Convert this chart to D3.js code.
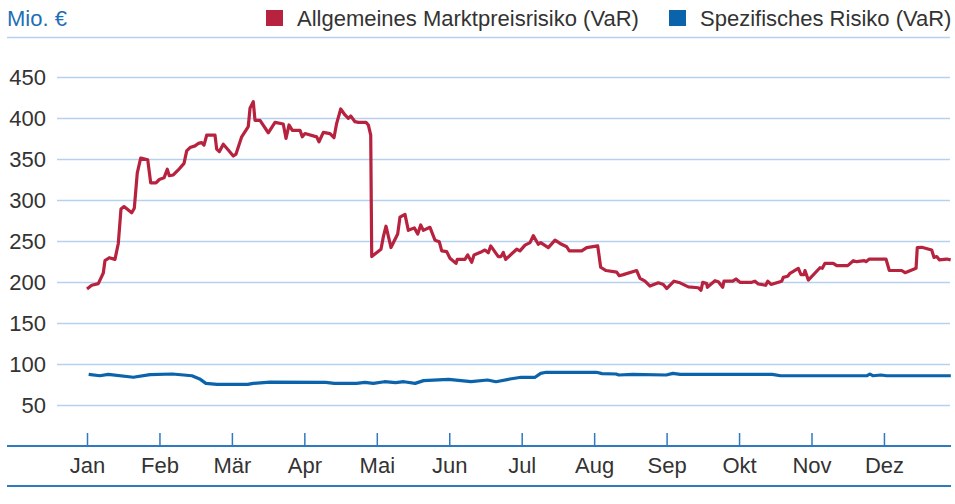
<!DOCTYPE html>
<html>
<head>
<meta charset="utf-8">
<script src="https://cdn.jsdelivr.net/npm/d3@7"></script>
<style>
  html, body { margin: 0; padding: 0; background: #fff; }
  svg { display: block; font-family: "Liberation Sans", Arial, sans-serif; }
</style>
</head>
<body>
<div id="chart"></div>
<script>
// month labels, position 0 = start of Jan
const months = ['Jan', 'Feb', 'Mär', 'Apr', 'Mai', 'Jun', 'Jul', 'Aug', 'Sep', 'Okt', 'Nov', 'Dez']
const yTicks = [50, 100, 150, 200, 250, 300, 350, 400, 450]

const seriesNames = ['Allgemeines Marktpreisrisiko (VaR)', 'Spezifisches Risiko (VaR)']

// Allgemeines Marktpreisrisiko: time in months, value in Mio. €
const marktT = [0.00, 0.065, 0.156, 0.225, 0.248, 0.308, 0.386, 0.432, 0.469, 0.511, 0.617, 0.653, 0.694, 0.741, 0.838, 0.879, 0.952, 0.998,
  1.063, 1.108, 1.136, 1.191, 1.260, 1.339, 1.376, 1.422, 1.491, 1.536, 1.583, 1.615, 1.652, 1.767, 1.790, 1.826, 1.881, 1.950,
  2.019, 2.057, 2.135, 2.226, 2.250, 2.295, 2.319, 2.388, 2.502, 2.595, 2.709, 2.747, 2.788, 2.834, 2.940, 2.972,
  3.009, 3.170, 3.202, 3.262, 3.354, 3.409, 3.446, 3.502, 3.561, 3.607, 3.640, 3.699, 3.745, 3.851, 3.883, 3.916, 3.930,
  4.058, 4.090, 4.127, 4.196, 4.288, 4.320, 4.389, 4.435, 4.518, 4.565, 4.606, 4.642, 4.734, 4.803, 4.863, 4.896, 4.965,
  5.010, 5.093, 5.111, 5.217, 5.255, 5.310, 5.342, 5.448, 5.493, 5.539, 5.572, 5.677, 5.714, 5.746, 5.779, 5.931, 5.976,
  6.046, 6.115, 6.160, 6.229, 6.262, 6.367, 6.460, 6.529, 6.621, 6.657, 6.828, 6.897,
  7.049, 7.090, 7.164, 7.311, 7.347, 7.402, 7.587, 7.633, 7.702, 7.771, 7.886, 7.955,
  8.001, 8.102, 8.185, 8.300, 8.438, 8.475, 8.499, 8.554, 8.562, 8.668, 8.714, 8.774, 8.792, 8.912, 8.958,
  9.013, 9.175, 9.220, 9.266, 9.368, 9.396, 9.441, 9.589, 9.611, 9.672, 9.703, 9.818, 9.855, 9.896, 9.910, 9.956,
  10.117, 10.149, 10.186, 10.301, 10.348, 10.500, 10.577, 10.624, 10.729, 10.752, 10.798,
  11.028, 11.074, 11.245, 11.291, 11.443, 11.460, 11.521, 11.659, 11.691, 11.728, 11.764, 11.866, 11.921]
const marktVaR = [191.5, 196, 198, 211, 226, 229.6, 227.6, 247, 289, 292, 284.5, 290, 333, 351, 349, 321, 321, 325,
  327, 337.5, 329.6, 330.5, 336.6, 344.7, 360, 364, 366, 369, 370, 367, 379, 379, 362, 359, 368, 361,
  353.7, 356, 377, 389.5, 412, 420, 397, 397, 382, 394.7, 392.7, 375, 391.5, 385, 385, 377,
  381, 377, 371, 382.5, 381, 376, 393.5, 411, 403.7, 399.6, 402.4, 395.5, 394.7, 394.7, 391.5, 379, 231,
  240, 255, 268, 242, 258.5, 279, 282.5, 263, 266, 258.5, 269.5, 263, 266.7, 251, 249, 238, 237,
  229, 222.7, 227.6, 227.6, 233, 224, 233, 237, 239, 235.7, 244, 231, 231, 236, 227.6, 240, 238,
  245, 248, 256.5, 246, 248, 242, 251, 247, 243, 238, 238, 242,
  244, 218, 214, 212, 207.7, 209, 214, 204.5, 201, 195, 199, 197,
  192, 201, 199, 194, 193, 190, 199.6, 198, 193.5, 201.6, 200.4, 193.5, 201, 201, 203.7,
  199.6, 199.6, 201, 197.6, 196, 201, 197, 201, 205.7, 207, 210.6, 216.7, 209, 209, 214, 202.4,
  217.4, 216.7, 222.8, 222.8, 220, 220, 226, 224.8, 226, 224.8, 228,
  228, 214, 214, 211.4, 216.7, 242, 242.3, 239, 230, 231, 227, 228, 227]

// Spezifisches Risiko
const spezT = [0.023, 0.177, 0.293, 0.639, 0.870, 1.179, 1.448, 1.564, 1.641, 1.794, 2.218, 2.295, 2.526, 3.296, 3.412,
  3.720, 3.836, 3.952, 4.105, 4.259, 4.375, 4.529, 4.645, 4.991, 5.299, 5.529, 5.645, 5.838, 5.992, 6.185, 6.262, 6.338,
  7.032, 7.108, 7.302, 7.340, 7.532, 7.994, 8.087, 8.188, 9.458, 9.573, 10.767, 10.806, 10.845, 10.959, 11.037, 11.923]
const spezVaR = [87.4, 85.7, 87.4, 83.8, 87, 87.8, 85.7, 81.3, 76.4, 75.2, 75.2, 76.4, 78, 77.6, 76.4,
  76.4, 77.6, 76.4, 78.4, 77.2, 78.4, 76.4, 79.7, 81.3, 78.4, 80.5, 78.4, 81.7, 83.8, 83.8, 88.6, 89.9,
  89.9, 88.2, 87.8, 86.6, 87.4, 86.6, 88.6, 87.4, 87.4, 85.7, 85.7, 87.8, 85.7, 86.6, 85.7, 85.7]

const width = 955
const height = 504
const fontSize = 22
const colors = {
  markt: '#b7223f',
  spez: '#0a63ab',
  grid: '#b6d1ee',
  axis: '#2f79c0',
  label: '#333333',
  unit: '#1f6fb5'
}

const svg = d3.select('#chart').append('svg')
  .attr('width', width)
  .attr('height', height)

const x = d3.scaleLinear().domain([0, 12]).range([87, 956.4])
const y = d3.scaleLinear().domain([0, 450]).range([446, 77])

// header
svg.append('text')
  .attr('x', 7).attr('y', 26)
  .attr('font-size', fontSize)
  .attr('fill', colors.unit)
  .text('Mio. €')

const legendX = [266, 669]
const legendColors = [colors.markt, colors.spez]
seriesNames.forEach((name, i) => {
  const g = svg.append('g').attr('transform', `translate(${legendX[i]},0)`)
  g.append('rect').attr('x', 0).attr('y', 10).attr('width', 17).attr('height', 16).attr('fill', legendColors[i])
  g.append('text').attr('x', 31).attr('y', 26).attr('font-size', fontSize).attr('fill', colors.label).text(name)
})

svg.append('line')
  .attr('x1', 7).attr('x2', 950).attr('y1', 37.5).attr('y2', 37.5)
  .attr('stroke', colors.grid).attr('stroke-width', 1.5)

// y axis with gridlines
const yAxis = svg.append('g')
  .attr('transform', 'translate(57,0)')
  .call(d3.axisLeft(y).tickValues(yTicks).tickSize(-(950 - 57)).tickPadding(11))
yAxis.select('.domain').remove()
yAxis.selectAll('.tick line').attr('stroke', colors.grid).attr('stroke-width', 1.5)
yAxis.selectAll('.tick text')
  .attr('font-size', fontSize)
  .attr('font-family', '"Liberation Sans", Arial, sans-serif')
  .attr('fill', colors.label)

// x axis
const xAxis = svg.append('g')
  .attr('transform', `translate(0,${y(0)})`)
  .call(d3.axisBottom(x).tickValues(d3.range(12)).tickFormat(i => months[i]).tickSizeInner(-13).tickSizeOuter(0).tickPadding(11.4))
xAxis.select('.domain').remove()
xAxis.selectAll('.tick line').attr('stroke', colors.axis).attr('stroke-width', 1.5)
xAxis.selectAll('.tick text')
  .attr('font-size', fontSize)
  .attr('font-family', '"Liberation Sans", Arial, sans-serif')
  .attr('fill', colors.label)

svg.append('line')
  .attr('x1', 7).attr('x2', 951).attr('y1', y(0)).attr('y2', y(0))
  .attr('stroke', colors.axis).attr('stroke-width', 2)
svg.append('line')
  .attr('x1', 7).attr('x2', 951).attr('y1', 486).attr('y2', 486)
  .attr('stroke', colors.axis).attr('stroke-width', 2)

// lines
const line = d3.line()
  .x(d => x(d[0]))
  .y(d => y(d[1]))

const spez = d3.zip(spezT, spezVaR)
const markt = d3.zip(marktT, marktVaR)

svg.append('path')
  .datum(spez)
  .attr('d', line)
  .attr('fill', 'none')
  .attr('stroke', colors.spez)
  .attr('stroke-width', 3.2)
  .attr('stroke-linejoin', 'round')

svg.append('path')
  .datum(markt)
  .attr('d', line)
  .attr('fill', 'none')
  .attr('stroke', colors.markt)
  .attr('stroke-width', 3.2)
  .attr('stroke-linejoin', 'round')
</script>
</body>
</html>
